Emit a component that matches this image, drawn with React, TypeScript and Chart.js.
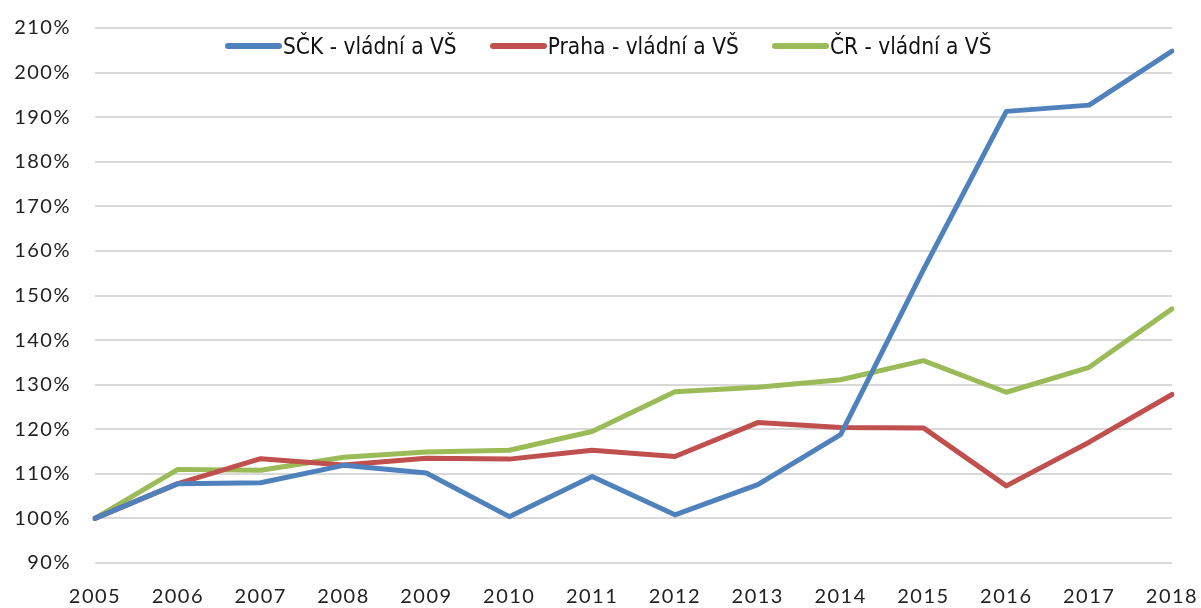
import React, { useEffect, useRef } from "react";
import { Chart, registerables } from "chart.js";

Chart.register(...registerables);

const years = ["2005", "2006", "2007", "2008", "2009", "2010", "2011", "2012", "2013", "2014", "2015", "2016", "2017", "2018"];

const sckValues = [100, 107.8, 108, 111.9, 110.2, 100.4, 109.4, 100.8, 107.6, 118.8, 155.8, 191.3, 192.7, 204.8];
const prahaValues = [100, 107.8, 113.4, 112, 113.5, 113.3, 115.3, 113.9, 121.5, 120.4, 120.3, 107.3, 117.1, 127.8];
const crValues = [100, 111, 110.8, 113.7, 114.9, 115.3, 119.5, 128.4, 129.4, 131.1, 135.4, 128.3, 133.9, 147];

const seriesNames = ["SČK - vládní a VŠ", "Praha - vládní a VŠ", "ČR - vládní a VŠ"];
const seriesColors = ["#4f81bd", "#c0504d", "#9bbb59"];

const W = 1201;
const H = 608;
const tickFont = { family: "Lato, 'Open Sans', sans-serif", size: 20 };

// Slightly looser tracking for the axis numbers
const letterSpacingPlugin = {
  id: "letterSpacing",
  afterInit(chart: any) {
    chart.ctx.letterSpacing = "1.5px";
  },
};

export default function App() {
  const canvasRef = useRef<HTMLCanvasElement | null>(null);

  useEffect(() => {
    document.body.style.margin = "0";
    const canvas = canvasRef.current;
    if (!canvas) return;
    const values = [sckValues, prahaValues, crValues];
    const chart = new Chart(canvas, {
      type: "line",
      data: {
        labels: years,
        datasets: values.map((v, i) => ({
          label: seriesNames[i],
          data: v,
          borderColor: seriesColors[i],
          backgroundColor: seriesColors[i],
          borderWidth: 5,
          pointRadius: 0,
          borderJoinStyle: "round" as const,
          borderCapStyle: "round" as const,
          tension: 0,
        })),
      },
      plugins: [letterSpacingPlugin],
      options: {
        responsive: false,
        animation: false,
        layout: { padding: { left: 0, right: 29, top: 28, bottom: 0 } },
        plugins: {
          legend: { display: false },
          tooltip: { enabled: false },
        },
        scales: {
          x: {
            offset: false,
            grid: { display: false, drawTicks: false },
            border: { display: false },
            ticks: { font: tickFont, color: "#222", padding: 22, maxRotation: 0, autoSkip: false },
            afterFit: (scale: any) => {
              scale.height = 45;
              scale.paddingLeft = 0;
              scale.paddingRight = 0;
            },
          },
          y: {
            min: 90,
            max: 210,
            grid: { color: "#d9d9d9", lineWidth: 2, drawTicks: false },
            border: { display: false },
            ticks: {
              stepSize: 10,
              font: tickFont,
              color: "#222",
              padding: 24,
              callback: (v: any) => `${v}%`,
            },
            afterFit: (scale: any) => {
              scale.width = 95;
              scale.paddingTop = 0;
              scale.paddingBottom = 0;
            },
          },
        },
      },
    });
    return () => chart.destroy();
  }, []);

  return (
    <div style={{ position: "relative", width: W, height: H, background: "#fff" }}>
      <canvas ref={canvasRef} width={W} height={H} style={{ display: "block" }} />
      <div
        style={{
          position: "absolute",
          top: 33,
          left: 225,
          display: "flex",
          gap: 33,
          fontFamily: "'Liberation Sans Narrow', 'DejaVu Sans Condensed', sans-serif",
          fontSize: 22.5,
          color: "#111",
          lineHeight: "26px",
        }}
      >
        {seriesNames.map((name, i) => (
          <div key={name} style={{ display: "flex", alignItems: "center" }}>
            <span
              style={{
                display: "inline-block",
                width: 57,
                height: 6,
                borderRadius: 3,
                background: seriesColors[i],
                marginRight: 1,
              }}
            />
            <span>{name}</span>
          </div>
        ))}
      </div>
    </div>
  );
}
